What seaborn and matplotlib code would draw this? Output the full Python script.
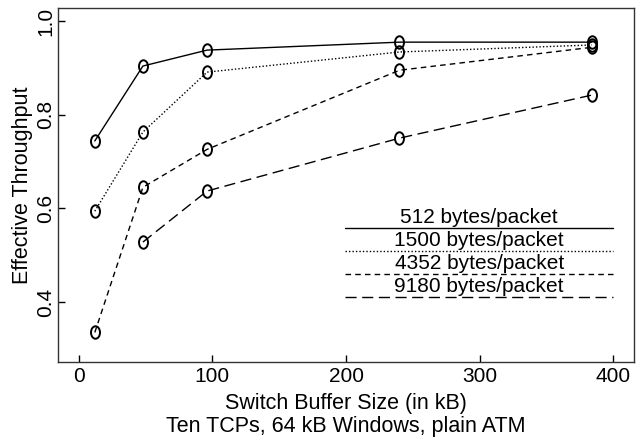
import numpy as np
import pandas as pd
import matplotlib
matplotlib.use('Agg')
import matplotlib.pyplot as plt
from matplotlib.path import Path
from matplotlib.transforms import Affine2D
import seaborn as sns

# 数据
buffer_kb = [12, 48, 96, 240, 384]
tp_512 = [0.744, 0.904, 0.938, 0.955, 0.955]
tp_1500 = [0.594, 0.763, 0.891, 0.934, 0.949]
tp_4352 = [0.335, 0.645, 0.726, 0.895, 0.944]
buffer_9180 = [48, 96, 240, 384]
tp_9180 = [0.528, 0.637, 0.750, 0.842]

labels = ['512 bytes/packet', '1500 bytes/packet', '4352 bytes/packet', '9180 bytes/packet']
styles = ['-', (0, (1, 1.5)), (0, (4, 3)), (0, (8, 4))]

sns.set_style('ticks')
plt.rcParams['font.family'] = ['Liberation Sans', 'DejaVu Sans']
plt.rcParams['text.color'] = 'black'
plt.rcParams['axes.labelcolor'] = 'black'

# "O" 形状的标记
oval = Path.unit_circle().transformed(Affine2D().scale(0.72, 1.0))

fig, ax = plt.subplots(figsize=(6.42, 4.43), dpi=100)

series = [(buffer_kb, tp_512), (buffer_kb, tp_1500), (buffer_kb, tp_4352), (buffer_9180, tp_9180)]
for (xs, ys), ls in zip(series, styles):
    sns.lineplot(x=xs, y=ys, ax=ax, color='black', linewidth=1.0, linestyle=ls,
                 marker=oval, markersize=9, markerfacecolor='none',
                 markeredgecolor='black', markeredgewidth=1.4)

ax.set_xlim(-15.7, 415.7)
ax.set_ylim(0.272, 1.028)
ax.set_xticks([0, 100, 200, 300, 400])
ax.set_yticks([0.4, 0.6, 0.8, 1.0])
ax.set_yticklabels(['0.4', '0.6', '0.8', '1.0'], rotation=90, va='center')
ax.tick_params(direction='in', length=5, width=1, labelsize=15, colors='black')
ax.tick_params(axis='y', pad=2)
for s in ax.spines.values():
    s.set_visible(True)
    s.set_color('#333333')
    s.set_linewidth(1.0)

ax.set_xlabel('Switch Buffer Size (in kB)\nTen TCPs, 64 kB Windows, plain ATM', fontsize=15.5,
              linespacing=1.15, labelpad=5)
ax.set_ylabel('Effective Throughput', fontsize=15.5, labelpad=2)

# 图例（R 风格：文字在线上方）
lx0, lx1 = 0.499, 0.963
ly = [0.3785, 0.3136, 0.2486, 0.1836]
for lab, ls, y in zip(labels, styles, ly):
    ax.plot([lx0, lx1], [y, y], transform=ax.transAxes, color='black', linewidth=1.0, linestyle=ls)
    ax.text((lx0 + lx1) / 2, y + 0.002, lab, transform=ax.transAxes, ha='center', va='bottom', fontsize=15)

fig.subplots_adjust(left=0.09, right=0.988, top=0.982, bottom=0.183)
plt.savefig('out.png', dpi=100)
